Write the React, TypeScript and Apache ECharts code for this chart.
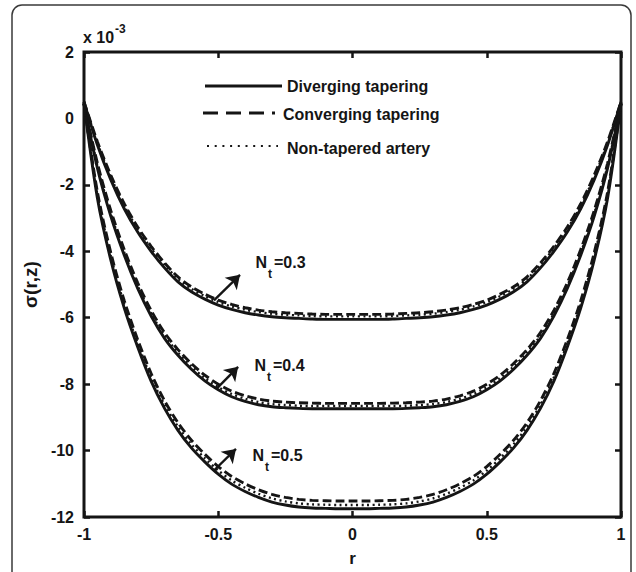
import React, { useEffect, useRef } from "react";
import * as echarts from "echarts";

// radial coordinate r
const R = [
  -1, -0.95, -0.9, -0.85, -0.8, -0.75, -0.7, -0.65, -0.6, -0.55, -0.5, -0.45, -0.4, -0.35, -0.3, -0.25, -0.2, -0.15, -0.1, -0.05,
  0, 0.05, 0.1, 0.15, 0.2, 0.25, 0.3, 0.35, 0.4, 0.45, 0.5, 0.55, 0.6, 0.65, 0.7, 0.75, 0.8, 0.85, 0.9, 0.95, 1,
];

// sigma(r,z) x 1e-3 — Nt = 0.3
const DIV_03 = [0.5, -0.8, -1.85, -2.72, -3.42, -4.0, -4.5, -4.92, -5.22, -5.44, -5.62, -5.75, -5.85, -5.92, -5.97, -6.0, -6.02, -6.04, -6.05, -6.05, -6.05, -6.05, -6.05, -6.04, -6.02, -6.0, -5.97, -5.92, -5.85, -5.75, -5.62, -5.44, -5.22, -4.92, -4.5, -4.0, -3.42, -2.72, -1.85, -0.8, 0.5];
const CON_03 = [0.5, -0.7, -1.71, -2.57, -3.27, -3.85, -4.35, -4.77, -5.07, -5.29, -5.47, -5.6, -5.7, -5.77, -5.82, -5.85, -5.87, -5.89, -5.9, -5.9, -5.9, -5.9, -5.9, -5.89, -5.87, -5.85, -5.82, -5.77, -5.7, -5.6, -5.47, -5.29, -5.07, -4.77, -4.35, -3.85, -3.27, -2.57, -1.71, -0.7, 0.5];
const NON_03 = [0.5, -0.74, -1.76, -2.63, -3.33, -3.91, -4.41, -4.83, -5.13, -5.35, -5.53, -5.66, -5.76, -5.83, -5.88, -5.91, -5.93, -5.95, -5.96, -5.96, -5.96, -5.96, -5.96, -5.95, -5.93, -5.91, -5.88, -5.83, -5.76, -5.66, -5.53, -5.35, -5.13, -4.83, -4.41, -3.91, -3.33, -2.63, -1.76, -0.74, 0.5];

// Nt = 0.4
const DIV_04 = [0.45, -1.5, -2.95, -4.12, -5.12, -5.95, -6.62, -7.13, -7.55, -7.9, -8.17, -8.38, -8.52, -8.62, -8.68, -8.71, -8.73, -8.74, -8.74, -8.74, -8.74, -8.74, -8.74, -8.74, -8.73, -8.71, -8.68, -8.62, -8.52, -8.38, -8.17, -7.9, -7.55, -7.13, -6.62, -5.95, -5.12, -4.12, -2.95, -1.5, 0.45];
const CON_04 = [0.45, -1.35, -2.78, -3.95, -4.95, -5.78, -6.45, -6.96, -7.38, -7.73, -8.0, -8.21, -8.35, -8.45, -8.51, -8.54, -8.56, -8.57, -8.58, -8.58, -8.58, -8.58, -8.58, -8.57, -8.56, -8.54, -8.51, -8.45, -8.35, -8.21, -8.0, -7.73, -7.38, -6.96, -6.45, -5.78, -4.95, -3.95, -2.78, -1.35, 0.45];
const NON_04 = [0.45, -1.42, -2.87, -4.04, -5.04, -5.87, -6.54, -7.05, -7.47, -7.82, -8.09, -8.3, -8.44, -8.54, -8.6, -8.63, -8.65, -8.66, -8.66, -8.66, -8.66, -8.66, -8.66, -8.66, -8.65, -8.63, -8.6, -8.54, -8.44, -8.3, -8.09, -7.82, -7.47, -7.05, -6.54, -5.87, -5.04, -4.04, -2.87, -1.42, 0.45];

// Nt = 0.5
const DIV_05 = [0.45, -2.4, -4.27, -5.71, -6.88, -7.91, -8.73, -9.39, -9.92, -10.34, -10.71, -11.01, -11.23, -11.41, -11.55, -11.64, -11.7, -11.73, -11.74, -11.75, -11.75, -11.75, -11.74, -11.73, -11.7, -11.64, -11.55, -11.41, -11.23, -11.01, -10.71, -10.34, -9.92, -9.39, -8.73, -7.91, -6.88, -5.71, -4.27, -2.4, 0.45];
const CON_05 = [0.45, -2.22, -4.05, -5.49, -6.66, -7.68, -8.5, -9.16, -9.69, -10.11, -10.48, -10.78, -11.0, -11.18, -11.32, -11.41, -11.47, -11.5, -11.51, -11.52, -11.52, -11.52, -11.51, -11.5, -11.47, -11.41, -11.32, -11.18, -11.0, -10.78, -10.48, -10.11, -9.69, -9.16, -8.5, -7.68, -6.66, -5.49, -4.05, -2.22, 0.45];
const NON_05 = [0.45, -2.3, -4.15, -5.6, -6.77, -7.8, -8.62, -9.28, -9.81, -10.23, -10.6, -10.9, -11.12, -11.3, -11.44, -11.53, -11.59, -11.62, -11.63, -11.64, -11.64, -11.64, -11.63, -11.62, -11.59, -11.53, -11.44, -11.3, -11.12, -10.9, -10.6, -10.23, -9.81, -9.28, -8.62, -7.8, -6.77, -5.6, -4.15, -2.3, 0.45];

const LEGEND_NAMES = ["Diverging tapering", "Converging tapering", "Non-tapered artery"];
const NT_LABELS = ["0.3", "0.4", "0.5"];
// arrow start/end in data units [r, sigma]
const ARROWS = [
  [[-0.516, -5.48], [-0.419, -4.71]],
  [[-0.505, -8.13], [-0.426, -7.48]],
  [[-0.516, -10.6], [-0.434, -9.95]],
];

const FONT = "'Liberation Sans', Arial, Helvetica, sans-serif";
const INK = "#151515";

export default function App() {
  const ref = useRef<HTMLDivElement>(null);
  useEffect(() => {
    const chart = echarts.init(ref.current!, null, { renderer: "svg" });
    const pairs = (ys: number[]) => R.map((r, i) => [r, ys[i]]);
    const styles: any = {
      solid: { type: "solid", width: 2.9 },
      dashed: { type: [9, 4], width: 2.9 },
      dotted: { type: [2, 3.5], width: 2.4 },
    };
    const mk = (name: string, ys: number[], kind: string, z: number, extra: any = {}) => ({
      type: "line",
      name,
      data: pairs(ys),
      showSymbol: false,
      symbol: "none",
      smooth: 0.3,
      silent: true,
      z,
      lineStyle: { color: INK, cap: "butt", ...styles[kind] },
      ...extra,
    });
    const arrowMark = (k: number) => ({
      markLine: {
        silent: true,
        symbol: ["none", "arrow"],
        symbolSize: 13,
        label: { show: false },
        lineStyle: { type: "solid", color: INK, width: 2.4 },
        data: [[{ coord: ARROWS[k][0] }, { coord: ARROWS[k][1] }]],
      },
    });
    const series = [
      mk(LEGEND_NAMES[0], DIV_03, "solid", 2, arrowMark(0)),
      mk(LEGEND_NAMES[0], DIV_04, "solid", 2, arrowMark(1)),
      mk(LEGEND_NAMES[0], DIV_05, "solid", 2, arrowMark(2)),
      mk(LEGEND_NAMES[2], NON_03, "dotted", 3),
      mk(LEGEND_NAMES[2], NON_04, "dotted", 3),
      mk(LEGEND_NAMES[2], NON_05, "dotted", 3),
      mk(LEGEND_NAMES[1], CON_03, "dashed", 4),
      mk(LEGEND_NAMES[1], CON_04, "dashed", 4),
      mk(LEGEND_NAMES[1], CON_05, "dashed", 4),
    ];

    const bold = (size: number) => ({ fontFamily: FONT, fontWeight: "bold", fontSize: size, fill: INK });
    const ntPos = [
      { x: 255.5, y: 262.5 },
      { x: 254.5, y: 365.5 },
      { x: 252.5, y: 455.5 },
    ];
    const ntGraphics: any[] = [];
    ntPos.forEach((p, k) => {
      ntGraphics.push({ type: "text", x: p.x, y: p.y, style: { text: "N", ...bold(16), verticalAlign: "middle" } });
      ntGraphics.push({ type: "text", x: p.x + 12.5, y: p.y + 11, style: { text: "t", ...bold(12), verticalAlign: "middle" } });
      ntGraphics.push({ type: "text", x: p.x + 18.5, y: p.y, style: { text: "=" + NT_LABELS[k], ...bold(16), verticalAlign: "middle" } });
    });

    const legendGraphics: any[] = [
      { type: "line", shape: { x1: 205, y1: 86, x2: 282, y2: 86 }, style: { stroke: INK, lineWidth: 3 } },
      { type: "text", x: 287, y: 86, style: { text: LEGEND_NAMES[0], ...bold(16), verticalAlign: "middle" } },
      { type: "line", shape: { x1: 203, y1: 113, x2: 275, y2: 113 }, style: { stroke: INK, lineWidth: 3, lineDash: [15, 8] } },
      { type: "text", x: 283, y: 114, style: { text: LEGEND_NAMES[1], ...bold(16), verticalAlign: "middle" } },
      { type: "line", shape: { x1: 207, y1: 146, x2: 278, y2: 146 }, style: { stroke: INK, lineWidth: 2.2, lineDash: [2, 5.7] } },
      { type: "text", x: 287, y: 148, style: { text: LEGEND_NAMES[2], ...bold(16), verticalAlign: "middle" } },
    ];

    const tick = { show: true, inside: true, length: 6, lineStyle: { color: INK, width: 2.5 } };
    const noLine = { show: false, onZero: false };
    const option: any = {
      animation: false,
      backgroundColor: "#ffffff",
      grid: { left: 84, right: 15, top: 52, bottom: 50, show: true, borderColor: INK, borderWidth: 3, backgroundColor: "transparent" },
      xAxis: [
        {
          type: "value", min: -1, max: 1, interval: 0.5, position: "bottom",
          axisLine: noLine, splitLine: { show: false }, axisTick: tick,
          axisLabel: { margin: 9, fontFamily: FONT, fontWeight: "bold", fontSize: 16, color: INK },
          name: "r", nameLocation: "middle", nameGap: 33,
          nameTextStyle: { fontFamily: FONT, fontWeight: "bold", fontSize: 17, color: INK },
        },
        {
          type: "value", min: -1, max: 1, interval: 0.5, position: "top",
          axisLine: noLine, splitLine: { show: false }, axisTick: tick,
          axisLabel: { show: false },
        },
      ],
      yAxis: [
        {
          type: "value", min: -12, max: 2, interval: 2, position: "left",
          axisLine: noLine, splitLine: { show: false }, axisTick: tick,
          axisLabel: { margin: 10, fontFamily: FONT, fontWeight: "bold", fontSize: 16, color: INK },
          name: "σ(r,z)", nameLocation: "middle", nameGap: 31,
          nameTextStyle: { fontFamily: FONT, fontWeight: "bold", fontSize: 19, color: INK },
        },
        {
          type: "value", min: -12, max: 2, interval: 2, position: "right",
          axisLine: noLine, splitLine: { show: false }, axisTick: tick,
          axisLabel: { show: false },
        },
      ],
      series,
      graphic: [
        {
          type: "rect", z: -10, silent: true,
          shape: { x: 12, y: 5, width: 619, height: 620, r: 10 },
          style: { fill: "none", stroke: "#3a3a3a", lineWidth: 1.5 },
        },
        { type: "text", x: 83, y: 37.5, style: { text: "x 10", ...bold(16), verticalAlign: "middle" } },
        { type: "text", x: 115, y: 29, style: { text: "-3", ...bold(12), verticalAlign: "middle" } },
        ...legendGraphics,
        ...ntGraphics,
      ],
    };
    chart.setOption(option);
    return () => chart.dispose();
  }, []);
  return (
    <div
      ref={ref}
      style={{ position: "fixed", left: 0, top: 0, width: 636, height: 572, background: "#fff" }}
    />
  );
}
